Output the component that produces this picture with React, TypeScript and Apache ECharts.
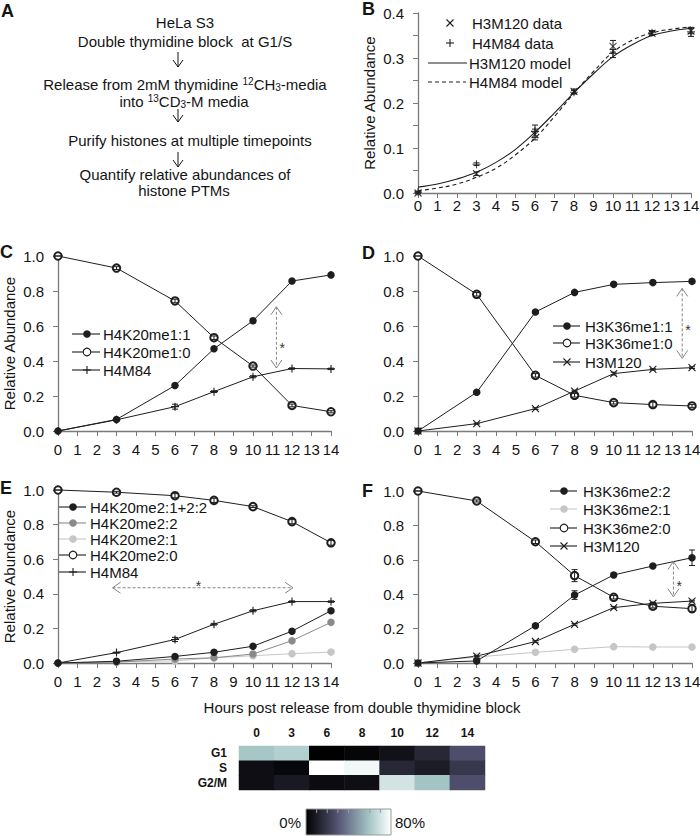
import React, { useEffect, useRef } from 'react';
import * as echarts from 'echarts';

const FONT = '"Liberation Sans", Arial, Helvetica, sans-serif';
const INK = '#141414';
const AXIS_GREY = '#7a7a7a';
const LINE = '#1e1e1e';
const MID_GREY = '#8a8a8a';
const LIGHT_GREY = '#c6c6c6';
const ANNOT = '#858585';

// ---------- data ----------
const hours = [0, 3, 6, 8, 10, 12, 14];
const modelHours = [0, 1, 2, 3, 4, 5, 6, 7, 8, 9, 10, 11, 12, 13, 14];

// Panel B
const bH3M120 = [0, 0.043, 0.13, 0.226, 0.326, 0.355, 0.36];
const bH3M120Err = [0.002, 0.004, 0.012, 0.005, 0.013, 0.004, 0.006];
const bH4M84 = [0.002, 0.064, 0.137, 0.224, 0.31, 0.356, 0.358];
const bH4M84Err = [0.002, 0.003, 0.014, 0.004, 0.009, 0.005, 0.01];
const bH3M120Model = [0.013, 0.02, 0.031, 0.046, 0.068, 0.097, 0.135, 0.178, 0.223, 0.265, 0.303, 0.33, 0.35, 0.36, 0.366];
const bH4M84Model = [0.005, 0.011, 0.02, 0.035, 0.055, 0.085, 0.122, 0.17, 0.222, 0.27, 0.313, 0.34, 0.356, 0.364, 0.369];

// Panel C
const cMe1_1 = [0, 0.066, 0.26, 0.47, 0.63, 0.857, 0.892];
const cMe1_1Err = [0, 0.003, 0.006, 0.008, 0.012, 0.008, 0.006];
const cMe1_0 = [1, 0.931, 0.743, 0.533, 0.371, 0.146, 0.11];
const cMe1_0Err = [0, 0.008, 0.01, 0.01, 0.006, 0.008, 0.006];
const cH4M84 = [0, 0.064, 0.139, 0.225, 0.31, 0.357, 0.355];
const cH4M84Err = [0, 0.003, 0.014, 0.005, 0.006, 0.004, 0.004];
const cArrow = [11.2, 0.71, 11.2, 0.36, 11.5, 0.49];

// Panel D
const dMe1_1 = [0, 0.221, 0.68, 0.792, 0.838, 0.848, 0.855];
const dMe1_1Err = [0, 0.006, 0.008, 0.006, 0.005, 0.008, 0.005];
const dMe1_0 = [1, 0.781, 0.318, 0.204, 0.162, 0.151, 0.143];
const dMe1_0Err = [0, 0.01, 0.01, 0.01, 0.008, 0.014, 0.008];
const dH3M120 = [0, 0.042, 0.128, 0.228, 0.328, 0.352, 0.362];
const dH3M120Err = [0, 0.003, 0.005, 0.005, 0.008, 0.004, 0.005];
const dArrow = [13.5, 0.815, 13.5, 0.415, 13.8, 0.594];

// Panel E
const eMe2Sum = [0, 0.01, 0.038, 0.062, 0.097, 0.184, 0.302];
const eMe2_2 = [0, 0.005, 0.023, 0.03, 0.052, 0.129, 0.235];
const eMe2_1 = [0, 0.008, 0.012, 0.03, 0.042, 0.054, 0.063];
const eMe2_0 = [1, 0.987, 0.967, 0.94, 0.904, 0.817, 0.695];
const eMe2_0Err = [0, 0.005, 0.012, 0.012, 0.005, 0.012, 0.014];
const eH4M84 = [0, 0.06, 0.136, 0.224, 0.302, 0.355, 0.355];
const eH4M84Err = [0, 0.003, 0.012, 0.005, 0.006, 0.004, 0.004];
const eArrow = [2.8, 0.435, 12.05, 0.435, 7.2, 0.465];

// Panel F
const fMe2_2 = [0, 0.012, 0.217, 0.395, 0.512, 0.564, 0.612];
const fMe2_2Err = [0, 0.004, 0.008, 0.025, 0.01, 0.008, 0.045];
const fMe2_1 = [0, 0.035, 0.062, 0.08, 0.095, 0.093, 0.093];
const fMe2_0 = [1, 0.942, 0.705, 0.508, 0.382, 0.33, 0.316];
const fMe2_0Err = [0, 0.006, 0.01, 0.035, 0.01, 0.01, 0.02];
const fH3M120 = [0, 0.04, 0.125, 0.225, 0.322, 0.347, 0.36];
const fH3M120Err = [0, 0.003, 0.005, 0.005, 0.006, 0.005, 0.005];
const fArrow = [13.05, 0.59, 13.05, 0.385, 13.35, 0.465];

// Cell-cycle heatmap (% of cells)
const cycleHours = ['0', '3', '6', '8', '10', '12', '14'];
const phases = ['G1', 'S', 'G2/M'];
const heatG1 = [60, 63, 0.5, 2, 6, 14, 28];
const heatS = [5, 3, 85, 77, 14, 10, 20];
const heatG2M = [5, 9, 4, 5, 70, 59, 28];
const colorbarLabels = ['0%', '80%'];
const colorbarTicks = [10, 20, 30, 40, 50, 60, 70];

// bone colormap
const BONE = ['#000000', '#1c1c27', '#38384d', '#545474', '#707a8f', '#8ba1ab', '#a7c7c7', '#d3e3e3', '#ffffff'];

// ---------- layout ----------
const GRIDS = [
  { left: 418, top: 13, width: 273, height: 180 }, // B
  { left: 58, top: 256, width: 273, height: 175 }, // C
  { left: 418, top: 256, width: 274, height: 175 }, // D
  { left: 58, top: 490, width: 273, height: 173 }, // E
  { left: 418, top: 491, width: 274, height: 172 }, // F
  { left: 239, top: 746, width: 246, height: 44 }, // heatmap
];

const SYM_CROSS = 'path://M0,0L10,10M10,0L0,10';
const SYM_PLUS = 'path://M5,0L5,10M0,5L10,5';

const pairs = (xs: number[], ys: number[]) => xs.map((x, i) => [x, ys[i]]);
const triples = (xs: number[], ys: number[], es: number[]) => xs.map((x, i) => [x, ys[i] - es[i], ys[i] + es[i]]);

type Kind = 'filled' | 'open' | 'cross' | 'plus' | 'none';

function lineSeries(gi: number, name: string, ys: number[], kind: Kind, color: string) {
  const symbol = kind === 'filled' ? 'circle' : kind === 'open' ? 'emptyCircle' : kind === 'cross' ? SYM_CROSS : SYM_PLUS;
  return {
    type: 'line', name, xAxisIndex: gi, yAxisIndex: gi, data: pairs(hours, ys),
    symbol, symbolSize: kind === 'cross' ? 7 : kind === 'plus' ? 8 : 7.5, showAllSymbol: true, clip: false, silent: true,
    lineStyle: { color, width: 1 },
    itemStyle: { color, borderColor: color, borderWidth: kind === 'filled' ? 0 : 1.1 },
    emphasis: { disabled: true }, z: 2,
  };
}

function errSeries(gi: number, ys: number[], es: number[], color = LINE) {
  return {
    type: 'custom', xAxisIndex: gi, yAxisIndex: gi, data: triples(hours, ys, es),
    encode: { x: 0, y: [1, 2] }, z: 3, silent: true, clip: false,
    renderItem: (_p: any, api: any) => {
      const x = api.value(0);
      const top = api.coord([x, api.value(2)]);
      const bot = api.coord([x, api.value(1)]);
      const w = 3;
      const st = { stroke: color, lineWidth: 1 };
      return {
        type: 'group', children: [
          { type: 'line', shape: { x1: top[0], y1: top[1], x2: bot[0], y2: bot[1] }, style: st },
          { type: 'line', shape: { x1: top[0] - w, y1: top[1], x2: top[0] + w, y2: top[1] }, style: st },
          { type: 'line', shape: { x1: bot[0] - w, y1: bot[1], x2: bot[0] + w, y2: bot[1] }, style: st },
        ],
      };
    },
  };
}

function arrowSeries(gi: number, a: number[]) {
  return {
    type: 'custom', xAxisIndex: gi, yAxisIndex: gi, data: [a],
    encode: { x: [0, 2, 4], y: [1, 3, 5] }, z: 4, silent: true, clip: false,
    renderItem: (_p: any, api: any) => {
      const p1 = api.coord([api.value(0), api.value(1)]);
      const p2 = api.coord([api.value(2), api.value(3)]);
      const pa = api.coord([api.value(4), api.value(5)]);
      const dx = p2[0] - p1[0], dy = p2[1] - p1[1];
      const len = Math.hypot(dx, dy) || 1;
      const ux = dx / len, uy = dy / len;
      const L = 8, W = 5.5;
      const head = (p: number[], sx: number, sy: number) => [
        [p[0] + sx * L - sy * W, p[1] + sy * L + sx * W], [p[0], p[1]], [p[0] + sx * L + sy * W, p[1] + sy * L - sx * W],
      ];
      const st = { stroke: ANNOT, lineWidth: 1, fill: 'none' };
      return {
        type: 'group', children: [
          { type: 'line', shape: { x1: p1[0], y1: p1[1], x2: p2[0], y2: p2[1] }, style: { stroke: ANNOT, lineWidth: 1, lineDash: [3, 2] } },
          { type: 'polyline', shape: { points: head(p1, ux, uy) }, style: st },
          { type: 'polyline', shape: { points: head(p2, -ux, -uy) }, style: st },
          { type: 'text', style: { text: '*', x: pa[0], y: pa[1] + 3, fill: '#333', font: `14px ${FONT}`, textAlign: 'center', textVerticalAlign: 'middle', align: 'center', verticalAlign: 'middle' } },
        ],
      };
    },
  };
}

function xAxis(gi: number, margin: number) {
  return {
    type: 'value', gridIndex: gi, min: 0, max: 14, interval: 1,
    axisLine: { show: true, onZero: false, lineStyle: { color: AXIS_GREY, width: 1.3 } },
    axisTick: { show: true, inside: false, length: 5, lineStyle: { color: AXIS_GREY, width: 1 } },
    axisLabel: { color: INK, fontSize: 15, fontFamily: FONT, margin },
    splitLine: { show: false },
  };
}

function yAxis(gi: number, max: number, interval: number, name: string, minor: boolean) {
  return {
    type: 'value', gridIndex: gi, min: 0, max, interval,
    name, nameLocation: 'middle', nameGap: 41, nameRotate: 90,
    nameTextStyle: { color: INK, fontSize: 15, fontFamily: FONT },
    axisLine: { show: true, onZero: false, lineStyle: { color: AXIS_GREY, width: 1.3 } },
    axisTick: { show: true, inside: false, length: 5, lineStyle: { color: AXIS_GREY, width: 1 } },
    minorTick: minor ? { show: true, splitNumber: 2, length: 5, lineStyle: { color: AXIS_GREY, width: 1 } } : { show: false },
    axisLabel: { color: INK, fontSize: 15, fontFamily: FONT, margin: 14, formatter: (v: number) => v.toFixed(1) },
    splitLine: { show: false }, minorSplitLine: { show: false },
  };
}

// ---------- graphic helpers ----------
function txt(x: number, y: number, text: string, size = 15, weight = 'normal', align = 'center', fill = INK, extra: any = {}) {
  return {
    type: 'text', silent: true,
    style: {
      text, x, y, fill, font: `${weight} ${size}px ${FONT}`,
      textAlign: align, textVerticalAlign: 'middle', align, verticalAlign: 'middle', ...extra,
    },
  };
}

function marker(kind: Kind, x: number, y: number, color: string): any[] {
  if (kind === 'filled') return [{ type: 'circle', silent: true, shape: { cx: x, cy: y, r: 3.8 }, style: { fill: color, stroke: color, lineWidth: 0 } }];
  if (kind === 'open') return [{ type: 'circle', silent: true, shape: { cx: x, cy: y, r: 3.8 }, style: { fill: '#fff', stroke: color, lineWidth: 1.1 } }];
  if (kind === 'cross') return [
    { type: 'line', silent: true, shape: { x1: x - 3.5, y1: y - 3.5, x2: x + 3.5, y2: y + 3.5 }, style: { stroke: color, lineWidth: 1.1 } },
    { type: 'line', silent: true, shape: { x1: x - 3.5, y1: y + 3.5, x2: x + 3.5, y2: y - 3.5 }, style: { stroke: color, lineWidth: 1.1 } },
  ];
  if (kind === 'plus') return [
    { type: 'line', silent: true, shape: { x1: x, y1: y - 4, x2: x, y2: y + 4 }, style: { stroke: color, lineWidth: 1.1 } },
    { type: 'line', silent: true, shape: { x1: x - 4, y1: y, x2: x + 4, y2: y }, style: { stroke: color, lineWidth: 1.1 } },
  ];
  return [];
}

function legendEntry(y: number, lx1: number, lx2: number, mx: number, tx: number, kind: Kind, color: string, label: string, dashed = false) {
  const els: any[] = [];
  if (lx2 > lx1) els.push({ type: 'line', silent: true, shape: { x1: lx1, y1: y, x2: lx2, y2: y }, style: { stroke: color, lineWidth: 1.1, lineDash: dashed ? [4, 3] : null } });
  els.push(...marker(kind, mx, y, color));
  els.push(txt(tx, y, label, 15, 'normal', 'left', INK, { lineHeight: 14 }));
  return els;
}

function downArrow(x: number, y1: number, y2: number) {
  return [
    { type: 'line', silent: true, shape: { x1: x, y1, x2: x, y2 }, style: { stroke: INK, lineWidth: 1 } },
    { type: 'polyline', silent: true, shape: { points: [[x - 5, y2 - 7], [x, y2], [x + 5, y2 - 7]] }, style: { stroke: INK, lineWidth: 1, fill: 'none' } },
  ];
}

const RICH = {
  sup: { fontSize: 10, fontFamily: FONT, fill: INK, lineHeight: 10, verticalAlign: 'top' },
  sub: { fontSize: 10, fontFamily: FONT, fill: INK, lineHeight: 10, verticalAlign: 'bottom' },
};

export default function App() {
  const ref = useRef<HTMLDivElement>(null);

  useEffect(() => {
    if (!ref.current) return;
    const chart = echarts.init(ref.current, null, { renderer: 'svg', width: 700, height: 836 });

    const series: any[] = [
      // B
      {
        type: 'scatter', name: 'H3M120 data', xAxisIndex: 0, yAxisIndex: 0, data: pairs(hours, bH3M120),
        symbol: SYM_CROSS, symbolSize: 7, silent: true, clip: false,
        itemStyle: { color: LINE, borderColor: LINE, borderWidth: 1.1 }, z: 3,
      },
      {
        type: 'scatter', name: 'H4M84 data', xAxisIndex: 0, yAxisIndex: 0, data: pairs(hours, bH4M84),
        symbol: SYM_PLUS, symbolSize: 8, silent: true, clip: false,
        itemStyle: { color: LINE, borderColor: LINE, borderWidth: 1.1 }, z: 3,
      },
      {
        type: 'line', name: 'H3M120 model', xAxisIndex: 0, yAxisIndex: 0, data: pairs(modelHours, bH3M120Model),
        smooth: 0.4, symbol: 'none', silent: true, lineStyle: { color: LINE, width: 1.1 }, z: 2,
      },
      {
        type: 'line', name: 'H4M84 model', xAxisIndex: 0, yAxisIndex: 0, data: pairs(modelHours, bH4M84Model),
        smooth: 0.4, symbol: 'none', silent: true, lineStyle: { color: LINE, width: 1.1, type: [4, 3] }, z: 2,
      },
      errSeries(0, bH3M120, bH3M120Err),
      errSeries(0, bH4M84, bH4M84Err),
      // C
      lineSeries(1, 'H4K20me1:1', cMe1_1, 'filled', LINE),
      lineSeries(1, 'H4K20me1:0', cMe1_0, 'open', LINE),
      lineSeries(1, 'H4M84', cH4M84, 'plus', LINE),
      errSeries(1, cMe1_1, cMe1_1Err),
      errSeries(1, cMe1_0, cMe1_0Err),
      errSeries(1, cH4M84, cH4M84Err),
      arrowSeries(1, cArrow),
      // D
      lineSeries(2, 'H3K36me1:1', dMe1_1, 'filled', LINE),
      lineSeries(2, 'H3K36me1:0', dMe1_0, 'open', LINE),
      lineSeries(2, 'H3M120', dH3M120, 'cross', LINE),
      errSeries(2, dMe1_1, dMe1_1Err),
      errSeries(2, dMe1_0, dMe1_0Err),
      errSeries(2, dH3M120, dH3M120Err),
      arrowSeries(2, dArrow),
      // E
      lineSeries(3, 'H4K20me2:1', eMe2_1, 'filled', LIGHT_GREY),
      lineSeries(3, 'H4K20me2:2', eMe2_2, 'filled', MID_GREY),
      lineSeries(3, 'H4K20me2:1+2:2', eMe2Sum, 'filled', LINE),
      lineSeries(3, 'H4K20me2:0', eMe2_0, 'open', LINE),
      lineSeries(3, 'H4M84 ', eH4M84, 'plus', LINE),
      errSeries(3, eMe2_0, eMe2_0Err),
      errSeries(3, eH4M84, eH4M84Err),
      arrowSeries(3, eArrow),
      // F
      lineSeries(4, 'H3K36me2:1', fMe2_1, 'filled', LIGHT_GREY),
      lineSeries(4, 'H3K36me2:2', fMe2_2, 'filled', LINE),
      lineSeries(4, 'H3K36me2:0', fMe2_0, 'open', LINE),
      lineSeries(4, 'H3M120 ', fH3M120, 'cross', LINE),
      errSeries(4, fMe2_2, fMe2_2Err),
      errSeries(4, fMe2_0, fMe2_0Err),
      errSeries(4, fH3M120, fH3M120Err),
      arrowSeries(4, fArrow),
    ];

    const heatData: number[][] = [];
    [heatG1, heatS, heatG2M].forEach((row, r) => row.forEach((v, c) => heatData.push([c, r, v])));
    const heatIndex = series.length;
    series.push({
      type: 'heatmap', xAxisIndex: 5, yAxisIndex: 5, data: heatData, silent: true,
      itemStyle: { borderWidth: 0 }, emphasis: { disabled: true },
    });

    const cbX = 306, cbY = 809, cbW = 85, cbH = 26;
    const graphic: any[] = [
      // panel letters
      txt(1, 11, 'A', 18, 'bold', 'left'),
      txt(362, 9, 'B', 18, 'bold', 'left'),
      txt(0, 252, 'C', 18, 'bold', 'left'),
      txt(362, 253, 'D', 18, 'bold', 'left'),
      txt(0, 488, 'E', 18, 'bold', 'left'),
      txt(362, 491, 'F', 18, 'bold', 'left'),
      // panel A workflow
      txt(185, 22, 'HeLa S3'),
      txt(185, 41, 'Double thymidine block  at G1/S'),
      ...downArrow(178, 52, 67),
      txt(185, 84, 'Release from 2mM thymidine {sup|12}CH{sub|3}-media', 15, 'normal', 'center', INK, { rich: RICH, lineHeight: 16 }),
      txt(184, 101, 'into {sup|13}CD{sub|3}-M media', 15, 'normal', 'center', INK, { rich: RICH, lineHeight: 16 }),
      ...downArrow(178, 109, 122),
      txt(190, 140, 'Purify histones at multiple timepoints'),
      ...downArrow(178, 152, 167),
      txt(185, 174, 'Quantify relative abundances of'),
      txt(184, 190, 'histone PTMs'),
      // legend B
      ...legendEntry(23, 0, 0, 450, 472, 'cross', LINE, 'H3M120 data'),
      ...legendEntry(43, 0, 0, 450, 472, 'plus', LINE, 'H4M84 data'),
      ...legendEntry(63, 428, 467, 0, 469, 'none', LINE, 'H3M120 model'),
      ...legendEntry(82, 428, 466, 0, 469, 'none', LINE, 'H4M84 model', true),
      // legend C
      ...legendEntry(334, 72, 100, 87, 103, 'filled', LINE, 'H4K20me1:1'),
      ...legendEntry(352, 72, 100, 87, 103, 'open', LINE, 'H4K20me1:0'),
      ...legendEntry(370, 72, 100, 87, 103, 'plus', LINE, 'H4M84'),
      // legend D
      ...legendEntry(326, 553, 580, 567, 585, 'filled', LINE, 'H3K36me1:1'),
      ...legendEntry(343, 553, 580, 567, 585, 'open', LINE, 'H3K36me1:0'),
      ...legendEntry(362, 553, 580, 567, 585, 'cross', LINE, 'H3M120'),
      // legend E
      ...legendEntry(507, 58, 86, 73, 90, 'filled', LINE, 'H4K20me2:1+2:2'),
      ...legendEntry(523, 58, 86, 73, 90, 'filled', MID_GREY, 'H4K20me2:2'),
      ...legendEntry(539, 58, 86, 73, 90, 'filled', LIGHT_GREY, 'H4K20me2:1'),
      ...legendEntry(555, 58, 86, 73, 90, 'open', LINE, 'H4K20me2:0'),
      ...legendEntry(572, 58, 86, 73, 90, 'plus', LINE, 'H4M84'),
      // legend F
      ...legendEntry(491, 550, 577, 564, 583, 'filled', LINE, 'H3K36me2:2'),
      ...legendEntry(509, 550, 577, 564, 583, 'filled', LIGHT_GREY, 'H3K36me2:1'),
      ...legendEntry(528, 550, 577, 564, 583, 'open', LINE, 'H3K36me2:0'),
      ...legendEntry(546, 550, 577, 564, 583, 'cross', LINE, 'H3M120'),
      // common x title
      txt(362, 707, 'Hours post release from double thymidine block'),
      // colorbar
      {
        type: 'rect', silent: true, shape: { x: cbX, y: cbY, width: cbW, height: cbH },
        style: {
          fill: new echarts.graphic.LinearGradient(0, 0, 1, 0, BONE.map((c, i) => ({ offset: i / (BONE.length - 1), color: c }))),
          stroke: '#9a9a9a', lineWidth: 1,
        },
      },
      ...colorbarTicks.map((t) => ({
        type: 'line', silent: true,
        shape: { x1: cbX + (t / 80) * cbW, y1: cbY, x2: cbX + (t / 80) * cbW, y2: cbY + 4 },
        style: { stroke: '#9a9a9a', lineWidth: 1 },
      })),
      txt(cbX - 5, cbY + 13, colorbarLabels[0], 15, 'normal', 'right'),
      txt(cbX + cbW + 4, cbY + 13, colorbarLabels[1], 15, 'normal', 'left'),
    ];

    const option: any = {
      animation: false,
      backgroundColor: '#ffffff',
      textStyle: { fontFamily: FONT },
      grid: GRIDS.map((g) => ({ ...g, containLabel: false, outerBoundsMode: 'none' })),
      xAxis: [
        xAxis(0, 5), xAxis(1, 11), xAxis(2, 11), xAxis(3, 11), xAxis(4, 11),
        {
          type: 'category', gridIndex: 5, data: cycleHours, position: 'top',
          axisLine: { show: false }, axisTick: { show: false }, splitLine: { show: false },
          axisLabel: { color: INK, fontSize: 12, fontWeight: 'bold', fontFamily: FONT, margin: 7, interval: 0 },
        },
      ],
      yAxis: [
        yAxis(0, 0.4, 0.1, 'Relative Abundance', true),
        yAxis(1, 1, 0.2, 'Relative Abundance', false),
        yAxis(2, 1, 0.2, '', false),
        yAxis(3, 1, 0.2, 'Relative Abundance', false),
        yAxis(4, 1, 0.2, '', false),
        {
          type: 'category', gridIndex: 5, data: phases, inverse: true,
          axisLine: { show: false }, axisTick: { show: false }, splitLine: { show: false },
          axisLabel: { color: INK, fontSize: 12, fontWeight: 'bold', fontFamily: FONT, margin: 12, interval: 0 },
        },
      ],
      visualMap: {
        type: 'continuous', show: false, min: 0, max: 80, seriesIndex: heatIndex,
        inRange: { color: BONE },
      },
      series,
      graphic,
    };

    chart.setOption(option);
    return () => chart.dispose();
  }, []);

  return <div ref={ref} style={{ position: 'absolute', left: 0, top: 0, width: 700, height: 836, background: '#fff' }} />;
}
